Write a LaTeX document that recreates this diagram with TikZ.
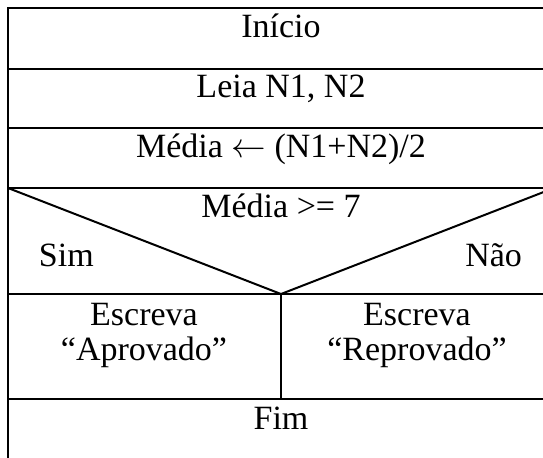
\documentclass[tikz,border=0pt]{standalone}
\usepackage{fontspec}
\setmainfont{Liberation Serif}
\begin{document}
\begin{tikzpicture}[x=0.5pt,y=-0.5pt,line width=1pt,
    lbl/.style={anchor=base,inner sep=0pt,font=\fontsize{17}{20}\selectfont}]
  \useasboundingbox (0,0) rectangle (543,457);
  % frame and rows
  \draw (8,459) -- (8,8) -- (554,8) -- (554,459) -- cycle;
  \foreach \y in {69,128,188,294,399}
    \draw (8,\y) -- (554,\y);
  % decision
  \coordinate (apex) at (281,294);
  \coordinate (condl) at (8,188);
  \coordinate (condr) at (554,188);
  \coordinate (split) at (281,399);
  \draw (condl) -- (apex) -- (condr);
  \draw (apex) -- (split);
  % texts
  \draw
    (281,37) node[lbl] (inicio) {Início}
    (281,97) node[lbl] (leia) {Leia N1, N2}
    (281,157) node[lbl] (media) {Média $\leftarrow$ (N1+N2)/2}
    (281,217) node[lbl] (cond) {Média >= 7}
    (38,266) node[lbl,anchor=base west] (sim) {Sim}
    (523,266) node[lbl,anchor=base east] (nao) {Não}
    (144,325) node[lbl] (esc1) {Escreva}
    (144,360) node[lbl] (apr) {“Aprovado”}
    (417,325) node[lbl] (esc2) {Escreva}
    (417,360) node[lbl] (rep) {“Reprovado”}
    (281,429) node[lbl] (fim) {Fim};
\end{tikzpicture}
\end{document}
